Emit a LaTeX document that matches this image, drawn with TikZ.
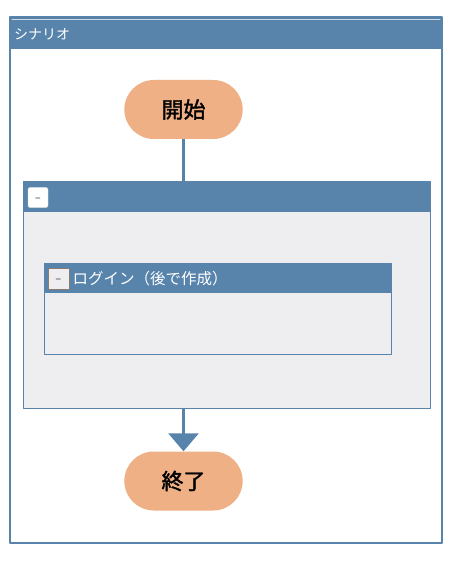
\documentclass[tikz,border=0pt]{standalone}
\usepackage{fontspec}
\setmainfont{Noto Sans CJK JP}
\newfontfamily\termfont{Noto Sans CJK JP}[FakeBold=1.6]
\usetikzlibrary{arrows.meta,positioning,shapes.misc}

\definecolor{hdrblue}{HTML}{5884AC}
\definecolor{bodygray}{HTML}{EEEDF0}
\definecolor{termorange}{HTML}{EFB085}
\definecolor{btnedge}{HTML}{8A7A70}

\tikzset{
  frame/.style={draw=hdrblue, line width=1.5pt, fill=white},
  terminal/.style={rounded rectangle, fill=termorange, draw=none,
    minimum width=125pt, minimum height=59pt, font=\termfont\fontsize{22}{22}\selectfont},
  hdrtext/.style={text=white, anchor=west, inner sep=0pt, font=\fontsize{14}{14}\selectfont},
  button/.style={rounded corners=2pt, minimum width=20pt, minimum height=20pt, inner sep=0pt,
    font=\fontsize{9}{9}\selectfont},
}

\begin{document}
\begin{tikzpicture}[x=1pt, y=-1pt, line cap=round, line join=round]
    \useasboundingbox (0,0) rectangle (455,561);

    % scenario frame
    \draw[frame] (10,17) rectangle (442,543);
    \fill[hdrblue] (10,17) rectangle (442,49);
    \draw[white!70!hdrblue, line width=0.6pt] (12,19) -- (440,19);
    \node[hdrtext] (scen) at (14,34) {シナリオ};

    % terminals
    \node[terminal] (start) at (183.5,109.5) {開始};
    \node[terminal] (stop) at (183.5,481) {終了};

    % outer group
    \draw[draw=hdrblue, line width=1pt, fill=bodygray] (23,182) rectangle (430,408);
    \fill[hdrblue] (23,182) rectangle (430,212);
    \coordinate (grptop) at (183.5,182);
    \coordinate (grpbot) at (183.5,408);
    \node[button, fill=white, draw=white!85!black] (grpbtn) at (38,197.5) {\raisebox{-2pt}{\_}};

    % login step
    \draw[draw=hdrblue, line width=1pt, fill=bodygray] (44,263) rectangle (391,354);
    \fill[hdrblue] (44,263) rectangle (391,293);
    \node[button, rounded corners=0pt, fill=bodygray, draw=btnedge, line width=1pt,
      minimum width=21pt, minimum height=21pt] (loginbtn) at (58.5,278.5) {\raisebox{-2pt}{\_}};
    \node[hdrtext, font=\fontsize{15.5}{15.5}\selectfont, right=3pt of loginbtn] (login) {ログイン（後で作成）};

    % connectors
    \draw[hdrblue, line width=3pt, line cap=butt] (start.south) -- (grptop);
    \draw[hdrblue, line width=3pt, line cap=butt,
      -{Triangle[width=30pt, length=18pt]}] (grpbot) -- (stop.north);
\end{tikzpicture}
\end{document}
